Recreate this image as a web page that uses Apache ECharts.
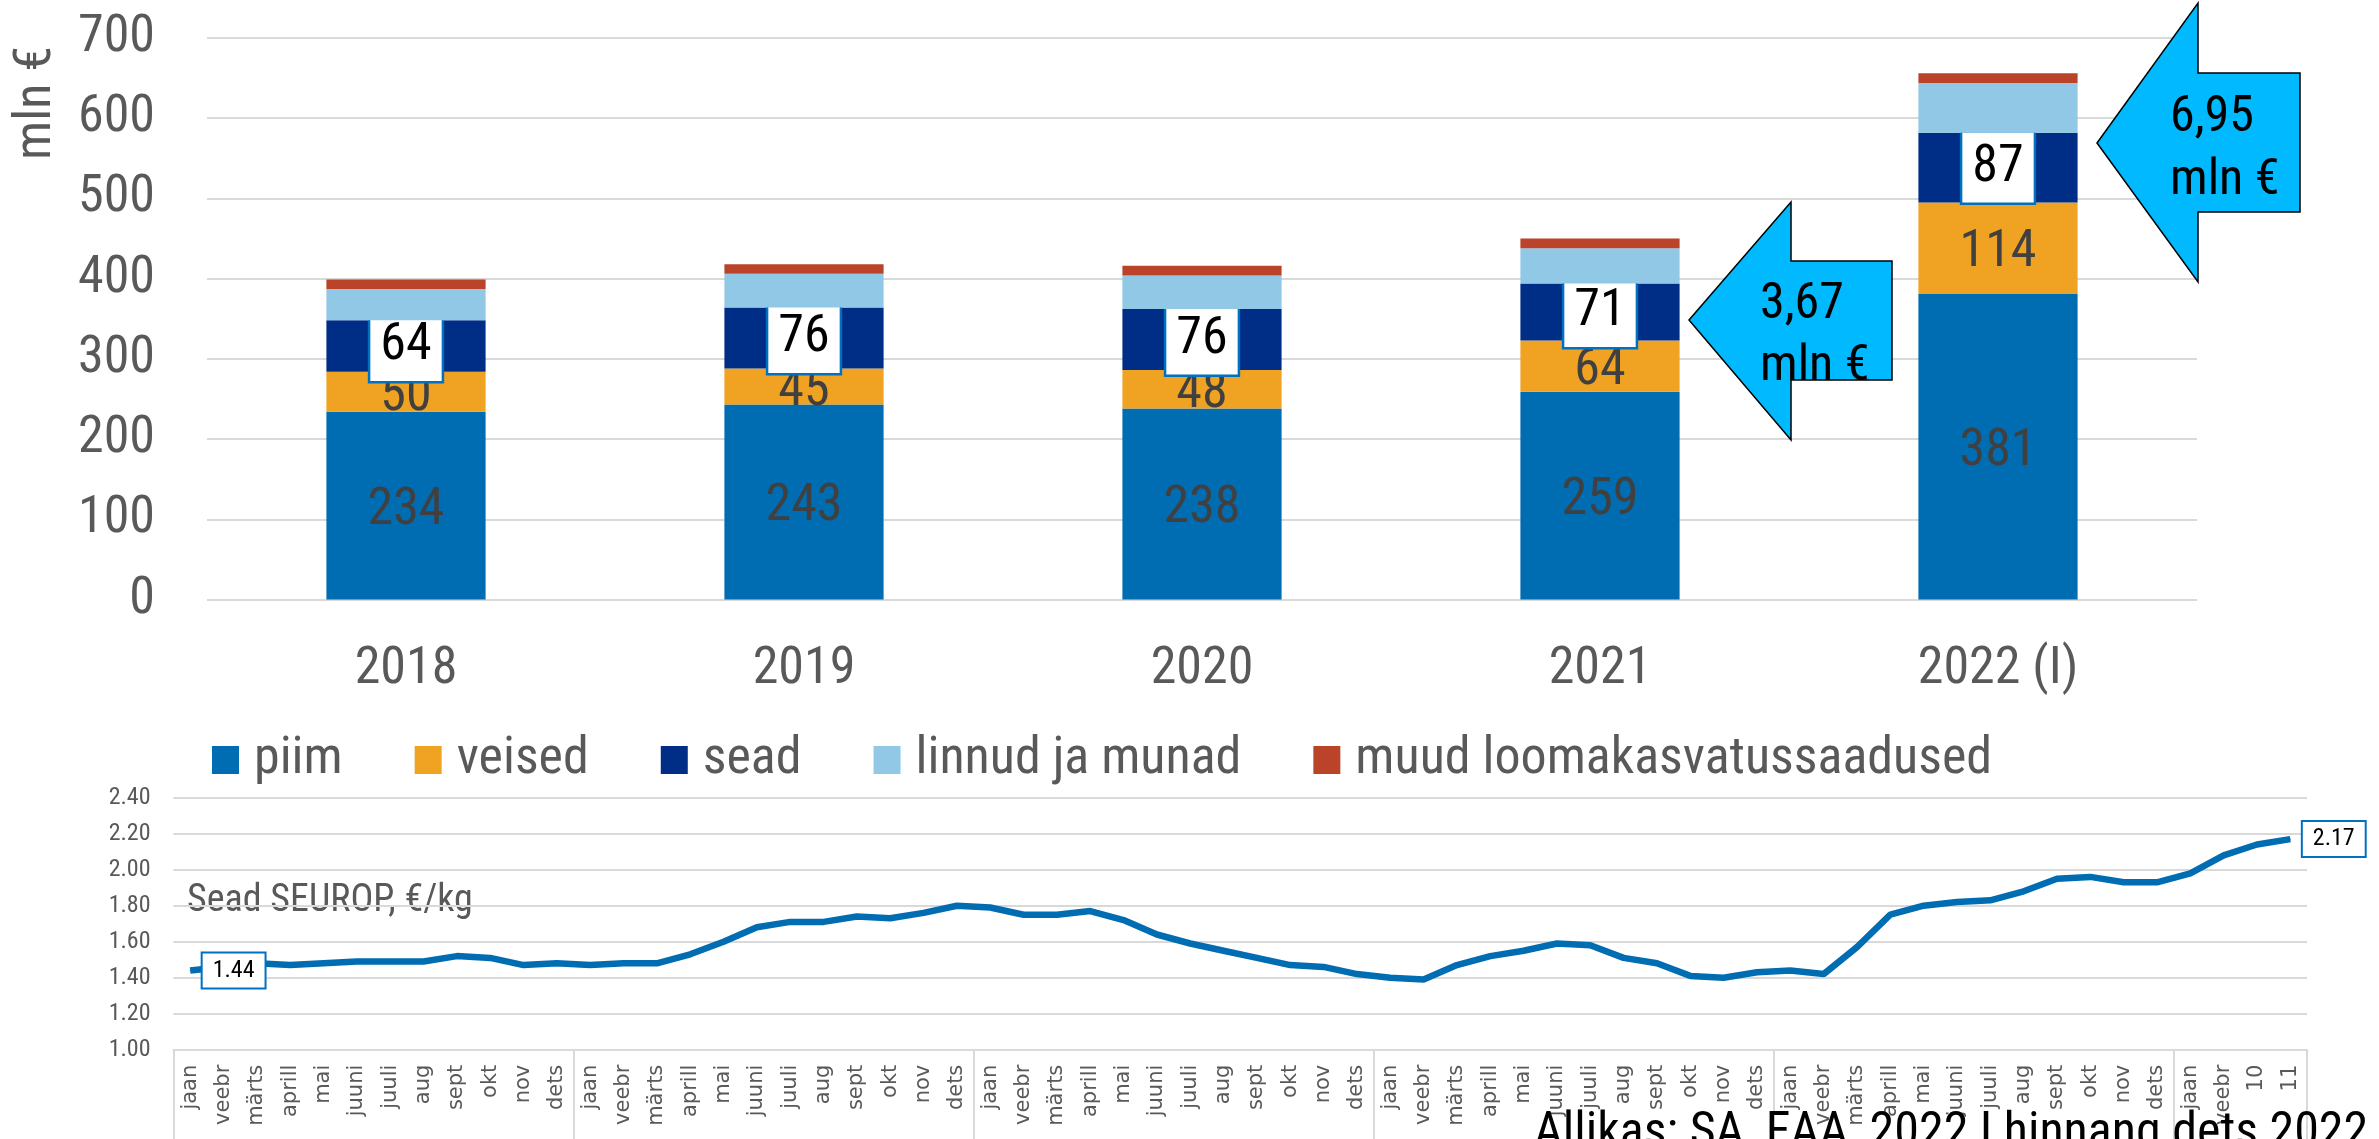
<!DOCTYPE html>
<html><head><meta charset="utf-8">
<script src="https://cdn.jsdelivr.net/npm/echarts@6/dist/echarts.min.js"></script>
<style>html,body{margin:0;padding:0;background:#fff}#c{width:2379px;height:1139px}</style>
</head><body><div id="c"></div>
<script>
// ---- data: top stacked bars (mln €) ----
const years = ['2018', '2019', '2020', '2021', '2022 (I)'];
const piim = [234, 243, 238, 259, 381];
const veised = [50, 45, 48, 64, 114];
const sead = [64, 76, 76, 71, 87];
const linnud = [39, 42, 42, 44, 62];
const muud = [12, 12, 12, 12, 12];
const seriesNames = ['piim', 'veised', 'sead', 'linnud ja munad', 'muud loomakasvatussaadused'];
const barTicks = { min: 0, max: 700, interval: 100 };

// ---- data: bottom line (Sead SEUROP, €/kg) ----
const monthNames = ['jaan', 'veebr', 'märts', 'aprill', 'mai', 'juuni', 'juuli', 'aug', 'sept', 'okt', 'nov', 'dets'];
const lastMonths = ['jaan', 'veebr', '10', '11'];
const monthLabels = [].concat(monthNames, monthNames, monthNames, monthNames, monthNames, lastMonths);
const seuropPrice = [
  1.44, 1.46, 1.48, 1.47, 1.48, 1.49, 1.49, 1.49, 1.52, 1.51, 1.47, 1.48,
  1.47, 1.48, 1.48, 1.53, 1.60, 1.68, 1.71, 1.71, 1.74, 1.73, 1.76, 1.80,
  1.79, 1.75, 1.75, 1.77, 1.72, 1.64, 1.59, 1.55, 1.51, 1.47, 1.46, 1.42,
  1.40, 1.39, 1.47, 1.52, 1.55, 1.59, 1.58, 1.51, 1.48, 1.41, 1.40, 1.43,
  1.44, 1.42, 1.57, 1.75, 1.80, 1.82, 1.83, 1.88, 1.95, 1.96, 1.93, 1.93,
  1.98, 2.08, 2.14, 2.17
];
const lineTicks = { min: 1.0, max: 2.4, interval: 0.2 };

// ---- annotation texts ----
const arrowTexts = ['3,67\nmln €', '6,95\nmln €'];
const yAxisTitle = 'mln €';
const lineTitle = 'Sead SEUROP, €/kg';
const sourceText = 'Allikas: SA, EAA, 2022 I hinnang dets 2022';

const COND = "'Roboto Condensed','Liberation Sans Narrow','Arial Narrow','DejaVu Sans Condensed',sans-serif";
const GREY = '#595959';
const colors = ['#006DB3', '#F0A222', '#002E86', '#91C8E6', '#BB4329'];

const chart = echarts.init(document.getElementById('c'), null, { renderer: 'canvas' });

const plainLabel = { show: true, position: 'inside', offset: [0, 5], color: '#404040', fontSize: 52, fontFamily: COND };
const boxLabel = {
  show: true, position: 'inside', color: '#000', fontSize: 52, fontFamily: COND, lineHeight: 56,
  backgroundColor: '#fff', borderColor: '#0070C0', borderWidth: 2.5, padding: [9, 10, 5, 10]
};

function barSeries(name, data, idx, label) {
  return {
    name: name, type: 'bar', stack: 'total', data: data, barWidth: '40%',
    xAxisIndex: 0, yAxisIndex: 0,
    itemStyle: { color: colors[idx] },
    label: label || { show: false },
    z: 2 + idx
  };
}

function arrowPts(tipX, tipY, headX, headTop, headBot, shaftR, shaftTop, shaftBot) {
  return [[tipX, tipY], [headX, headTop], [headX, shaftTop], [shaftR, shaftTop], [shaftR, shaftBot], [headX, shaftBot], [headX, headBot]];
}

const lastIdx = seuropPrice.length - 1;

const option = {
  animation: false,
  backgroundColor: '#fff',
  textStyle: { fontFamily: COND },
  grid: [
    { left: 207, right: 182, top: 38, bottom: 539.5, containLabel: false },
    { left: 173.5, right: 72, top: 797.7, bottom: 89.3, containLabel: false }
  ],
  legend: {
    data: seriesNames, left: 207, top: 729, itemWidth: 27, itemHeight: 28, itemGap: 72,
    icon: 'rect',
    textStyle: { fontSize: 52, color: GREY, fontFamily: COND, padding: [0, 0, 0, 10] }
  },
  xAxis: [
    {
      type: 'category', data: years, gridIndex: 0,
      axisLine: { show: false }, axisTick: { show: false },
      axisLabel: { fontSize: 52, color: GREY, fontFamily: COND, margin: 44 }
    },
    {
      type: 'category', data: monthLabels, gridIndex: 1, boundaryGap: true,
      axisLine: { show: true, lineStyle: { color: '#D9D9D9', width: 2 } },
      axisTick: { show: true, length: 100, interval: function (i) { return i % 12 === 0; }, lineStyle: { color: '#D9D9D9', width: 2 } },
      axisLabel: { rotate: 90, interval: 0, fontSize: 21, color: GREY, fontFamily: "'DejaVu Sans','Noto Sans',sans-serif", margin: 15 }
    }
  ],
  yAxis: [
    {
      type: 'value', gridIndex: 0, min: barTicks.min, max: barTicks.max, interval: barTicks.interval,
      axisLine: { show: false }, axisTick: { show: false },
      splitLine: { lineStyle: { color: '#D9D9D9', width: 2 } },
      axisLabel: { fontSize: 52, color: GREY, fontFamily: COND, margin: 52 }
    },
    {
      type: 'value', gridIndex: 1, min: lineTicks.min, max: lineTicks.max, interval: lineTicks.interval,
      axisLine: { show: false }, axisTick: { show: false },
      splitLine: { lineStyle: { color: '#D9D9D9', width: 2 } },
      axisLabel: { fontSize: 24, color: GREY, fontFamily: COND, margin: 23, formatter: function (v) { return v.toFixed(2); } }
    }
  ],
  series: [
    barSeries(seriesNames[0], piim, 0, plainLabel),
    barSeries(seriesNames[1], veised, 1, plainLabel),
    barSeries(seriesNames[2], sead, 2, boxLabel),
    barSeries(seriesNames[3], linnud, 3),
    barSeries(seriesNames[4], muud, 4),
    {
      name: 'Sead SEUROP', type: 'line', xAxisIndex: 1, yAxisIndex: 1,
      data: seuropPrice.map(function (v, i) {
        return (i === 0 || i === lastIdx) ? { value: v, label: { show: true } } : v;
      }),
      showSymbol: true, symbol: 'circle', symbolSize: 1,
      lineStyle: { color: '#006DB3', width: 6.5 },
      itemStyle: { color: '#006DB3' },
      label: {
        show: false, position: 'right', distance: 12, color: '#000', fontSize: 24, fontFamily: COND,
        backgroundColor: '#fff', borderColor: '#0070C0', borderWidth: 2, padding: [6, 10, 4, 10],
        formatter: function (p) { return p.value.toFixed(2); }
      },
      z: 5
    }
  ],
  graphic: [
    {
      type: 'text', x: 37, y: 103, rotation: Math.PI / 2,
      style: { text: yAxisTitle, fontSize: 52, fill: GREY, fontFamily: COND, align: 'center', verticalAlign: 'middle' }
    },
    {
      type: 'polygon', z: 10,
      shape: { points: arrowPts(1689, 320, 1791, 202, 440, 1892, 261, 380) },
      style: { fill: '#00B9FF', stroke: '#000', lineWidth: 1.5 }
    },
    {
      type: 'text', z: 11, x: 1760, y: 336,
      style: { text: arrowTexts[0], fontSize: 50, lineHeight: 62, fill: '#000', fontFamily: COND, align: 'left', verticalAlign: 'middle' }
    },
    {
      type: 'polygon', z: 10,
      shape: { points: arrowPts(2097, 143, 2198, 3, 282, 2300, 73, 212) },
      style: { fill: '#00B9FF', stroke: '#000', lineWidth: 1.5 }
    },
    {
      type: 'text', z: 11, x: 2170, y: 150,
      style: { text: arrowTexts[1], fontSize: 50, lineHeight: 63, fill: '#000', fontFamily: COND, align: 'left', verticalAlign: 'middle' }
    },
    {
      type: 'text', x: 187, y: 901,
      style: { text: lineTitle, fontSize: 38, fill: GREY, fontFamily: COND, align: 'left', verticalAlign: 'middle' }
    },
    {
      type: 'text', z: 20, x: 1534, y: 1109,
      style: { text: sourceText, fontSize: 50, fill: '#000', fontFamily: COND, align: 'left', verticalAlign: 'top' }
    }
  ]
};
chart.setOption(option);
</script>
</body></html>
